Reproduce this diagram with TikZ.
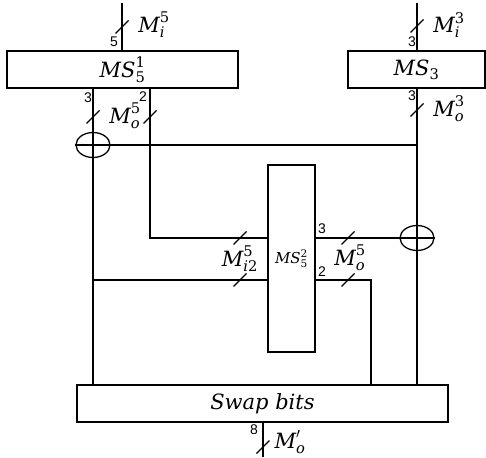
\documentclass[tikz,border=0pt]{standalone}
\usepackage{amsmath}
\usepackage{fontspec}
\setmainfont{DejaVu Serif}
\newfontfamily\numfont{Liberation Sans}
\usetikzlibrary{shapes.geometric,calc}
\tikzset{
  wire/.style={line width=1.3pt},
  blk/.style={draw, line width=1.3pt, rectangle, inner sep=0pt, font=\fontsize{21}{22}\selectfont},
  xorc/.style={draw, ellipse, line width=1.3pt, minimum width=34pt, minimum height=25pt, inner sep=0pt},
  bits/.style={font=\numfont\fontsize{14}{14}\selectfont, inner sep=0pt},
  lab/.style={font=\fontsize{21}{22}\selectfont, inner sep=0pt},
}
\newcommand\busslash[1]{\draw[wire] ($(#1)+(-6.5,6.5)$) -- ($(#1)+(6.5,-6.5)$);}
\begin{document}
\begin{tikzpicture}[x=1pt,y=-1pt]
\useasboundingbox (0,0) rectangle (486,457);
% blocks
\node[blk, minimum width=231pt, minimum height=37pt] (ms51) at (122.5,69.5) {$\textit{MS}^{\text{1}}_{\text{5}}$};
\node[blk, minimum width=137pt, minimum height=37pt] (ms3) at (416.5,69.5) {$\textit{MS}_{\text{3}}$};
\node[blk, minimum width=47pt, minimum height=187pt, font=\fontsize{15}{16}\selectfont] (ms52) at (291.5,258.5) {$\textit{MS}^{\text{2}}_{\text{5}}$};
\node[blk, minimum width=371pt, minimum height=37pt] (swap) at (262.5,403.5) {\textit{Swap bits}};
\node[xorc] (xor1) at (93,145) {};
\node[xorc] (xor2) at (417,238) {};
% coordinates
\coordinate (in1) at (122,3);
\coordinate (in3) at (417,3);
\coordinate (a2) at (150,238);
\coordinate (b2) at (371,280);
\coordinate (c1) at (93,280);
\coordinate (out) at (263,457);
% wires
\draw[wire] (in1) -- (in1 |- ms51.north);
\draw[wire] (in3) -- (in3 |- ms3.north);
\draw[wire] (xor1 |- ms51.south) -- (xor1 |- swap.north);
\draw[wire] (a2 |- ms51.south) -- (a2) -- (a2 -| ms52.west);
\draw[wire] (xor1.west) -- (xor1 -| xor2);
\draw[wire] (xor2 |- ms3.south) -- (xor2 |- swap.north);
\draw[wire] (ms52.east |- xor2) -- (xor2.east);
\draw[wire] (b2 -| ms52.east) -- (b2) -- (b2 |- swap.north);
\draw[wire] (c1) -- (c1 -| ms52.west);
\draw[wire] (out |- swap.south) -- (out);
% bus slashes
\coordinate (s1) at (122,27);
\coordinate (s2) at (93,117);
\coordinate (s3) at (150,117);
\coordinate (s4) at (417,26);
\coordinate (s5) at (417,110);
\coordinate (s6) at (240,238);
\coordinate (s7) at (240,280);
\coordinate (s8) at (348,238);
\coordinate (s9) at (348,280);
\coordinate (s10) at (263,447);
\foreach \s in {s1,s2,s3,s4,s5,s6,s7,s8,s9,s10} {\busslash{\s}}
% bit widths
\node[bits] (n1) at (114,42) {5};
\node[bits] (n2) at (88,98) {3};
\node[bits] (n3) at (143,97) {2};
\node[bits] (n4) at (412,42) {3};
\node[bits] (n5) at (412,96) {3};
\node[bits] (n6) at (322,229) {3};
\node[bits] (n7) at (322,272) {2};
\node[bits] (n8) at (254,430) {8};
% signal labels
\node[lab] (l1) at (154,25) {$\textit{M}^{\text{5}}_{\textit{i}}$};
\node[lab] (l2) at (125,116) {$\textit{M}^{\text{5}}_{\textit{o}}$};
\node[lab] (l3) at (449,25) {$\textit{M}^{\text{3}}_{\textit{i}}$};
\node[lab] (l4) at (449,109) {$\textit{M}^{\text{3}}_{\textit{o}}$};
\node[lab] (l5) at (240,259) {$\textit{M}^{\text{5}}_{\textit{i}\text{2}}$};
\node[lab] (l6) at (350,258) {$\textit{M}^{\text{5}}_{\textit{o}}$};
\node[lab] (l7) at (290,442) {$\textit{M}'_{\textit{o}}$};
\end{tikzpicture}
\end{document}
